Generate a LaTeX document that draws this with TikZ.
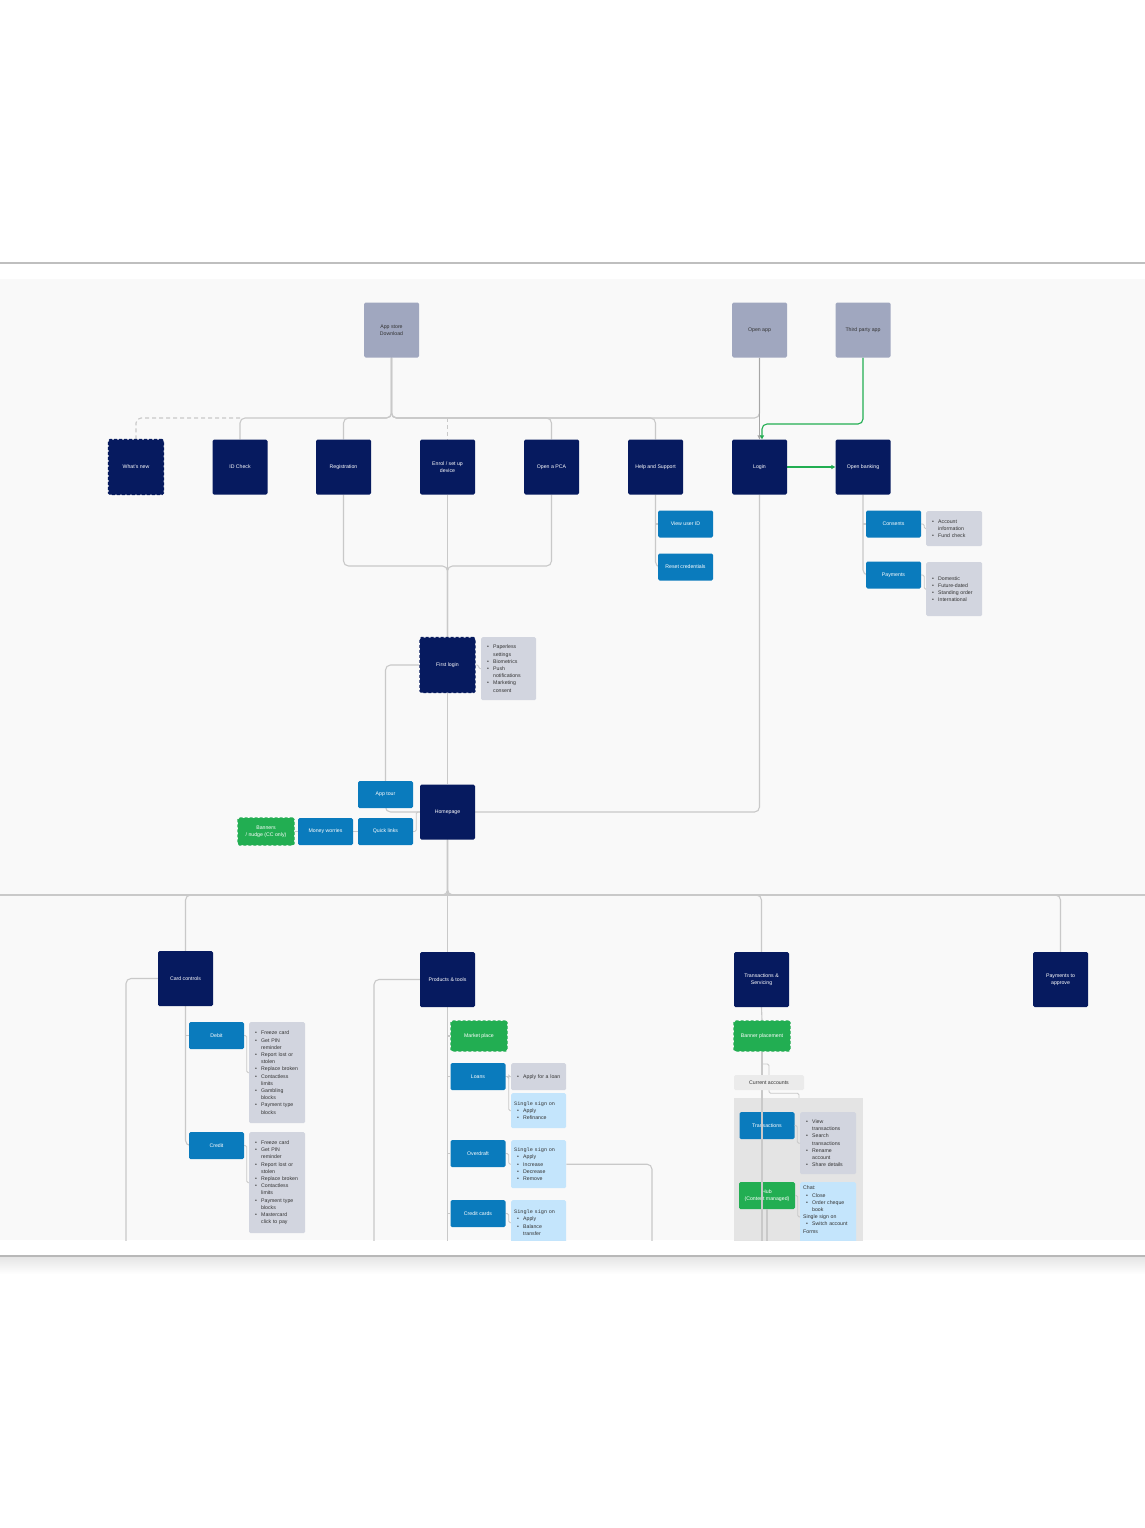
\documentclass[tikz,border=0pt]{standalone}
\usepackage{fontspec}
\setmainfont{Liberation Sans}
\setmonofont{Liberation Mono}
\usetikzlibrary{arrows.meta}
\pgfdeclarelayer{bgfill}
\pgfdeclarelayer{conn}
\pgfdeclarelayer{front}
\pgfsetlayers{bgfill,conn,main,front}
\definecolor{navy}{HTML}{061A5F}
\definecolor{srcgray}{HTML}{A0A7BF}
\definecolor{midblue}{HTML}{0A7BBD}
\definecolor{grncol}{HTML}{22AE52}
\definecolor{listgray}{HTML}{D2D5DF}
\definecolor{ltblue}{HTML}{C4E5FC}
\definecolor{lnc}{HTML}{C9C9C9}
\definecolor{txtdark}{HTML}{333333}
\definecolor{bgarea}{HTML}{F9F9F9}
\definecolor{contgray}{HTML}{E4E4E4}
\definecolor{cagray}{HTML}{EBEBEB}
\newcommand\bi{\hspace*{3pt}\makebox[6pt][l]{\textbullet}}
\newcommand\bc{\hspace*{9pt}}
\tikzset{
 base/.style={rectangle, rounded corners=1.5pt, inner sep=0pt, font=\fontsize{5.2}{7.2}\selectfont, align=center},
 src/.style={base, fill=srcgray, text=txtdark, minimum width=55pt, minimum height=55pt},
 nav/.style={base, fill=navy, text=white, minimum width=55pt, minimum height=55pt},
 navdash/.style={nav, draw=navy, line width=1.4pt, dash pattern=on 3pt off 2pt},
 subbox/.style={base, fill=midblue, text=white, minimum width=55pt, minimum height=27pt},
 grnbox/.style={base, fill=grncol, text=white, minimum width=56pt, minimum height=27pt},
 grndash/.style={grnbox, draw=grncol, line width=1.4pt, dash pattern=on 3pt off 2pt},
 lst/.style={base, fill=listgray, text=txtdark, anchor=north west, inner xsep=3pt, inner ysep=4pt, align=left},
 sso/.style={lst, fill=ltblue},
 conn/.style={draw=lnc, line width=1.1pt, rounded corners=5pt},
 brk/.style={draw=lnc, line width=0.8pt, rounded corners=1.5pt},
 garrow/.style={-{Triangle[length=4pt,width=4pt]}},
}
\begin{document}
\begin{tikzpicture}[x=1pt,y=-1pt]
\useasboundingbox (0,0) rectangle (1145,1528);
\begin{pgfonlayer}{bgfill}
\fill[white] (0,0) rectangle (1145,1528);
\fill[bgarea] (0,279) rectangle (1145,1240);
\shade[top color=black!10, bottom color=white] (0,1257) rectangle (1145,1274);
\draw[draw=black!25, line width=1.4pt] (0,263) -- (1145,263);
\draw[draw=black!28, line width=1.8pt] (0,1256) -- (1145,1256);
\end{pgfonlayer}

\begin{scope}
\clip (0,279) rectangle (1145,1240);
% top sources
\node[src] (appstore) at (391.5,330) {App store\\Download};
\node[src] (openapp) at (759.5,330) {Open app};
\node[src] (thirdparty) at (863,330) {Third party app};
% second row
\node[navdash] (whatsnew) at (136,467) {What's new};
\node[nav] (idcheck) at (240,467) {ID Check};
\node[nav] (registration) at (343.5,467) {Registration};
\node[nav] (enrol) at (447.5,467) {Enrol / set up\\device};
\node[nav] (pca) at (551.5,467) {Open a PCA};
\node[nav] (help) at (655.5,467) {Help and Support};
\node[nav] (login) at (759.5,467) {Login};
\node[nav] (openbanking) at (863,467) {Open banking};
\node[subbox] (viewuser) at (685.5,524) {View user ID};
\node[subbox] (reset) at (685.5,567) {Reset credentials};
\node[subbox] (consents) at (893.5,524) {Consents};
\node[subbox] (obpay) at (893.5,575) {Payments};
\node[lst, text width=50pt, minimum height=35pt] (acctlist) at (926,511) {\bi Account\\\bc information\\\bi Fund check};
\node[lst, text width=50pt, minimum height=54pt] (paylist) at (926,562) {\bi Domestic\\\bi Future-dated\\\bi Standing order\\\bi International};
% first login / homepage
\node[navdash] (firstlogin) at (447.5,665) {First login};
\node[lst, text width=49pt, minimum height=63pt] (fllist) at (481,637) {\bi Paperless\\\bc settings\\\bi Biometrics\\\bi Push\\\bc notifications\\\bi Marketing\\\bc consent};
\node[nav] (homepage) at (447.5,812) {Homepage};
\node[subbox] (apptour) at (385.5,794.5) {App tour};
\node[subbox] (quicklinks) at (385.5,831.5) {Quick links};
\node[subbox] (money) at (325.5,831.5) {Money worries};
\node[grndash] (banners) at (266,831.5) {Banners\\/ nudge (CC only)};
% card controls
\node[nav] (cardctl) at (185.5,978.5) {Card controls};
\node[subbox] (debit) at (216.5,1035.5) {Debit};
\node[subbox] (credit) at (216.5,1145.5) {Credit};
\node[lst, text width=50pt, minimum height=101pt] (debitlist) at (249,1022) {\bi Freeze card\\\bi Get PIN\\\bc reminder\\\bi Report lost or\\\bc stolen\\\bi Replace broken\\\bi Contactless\\\bc limits\\\bi Gambling\\\bc blocks\\\bi Payment type\\\bc blocks};
\node[lst, text width=50pt, minimum height=101pt] (creditlist) at (249,1132) {\bi Freeze card\\\bi Get PIN\\\bc reminder\\\bi Report lost or\\\bc stolen\\\bi Replace broken\\\bi Contactless\\\bc limits\\\bi Payment type\\\bc blocks\\\bi Mastercard\\\bc click to pay};
% products
\node[nav] (products) at (447.5,979.5) {Products \& tools};
\node[grndash, minimum height=30pt] (market) at (479,1036) {Market place};
\node[subbox] (loans) at (478,1076.5) {Loans};
\node[lst, text width=49pt, minimum height=27pt] (loanapply) at (511,1063) {\bi Apply for a loan};
\node[sso, text width=49pt, minimum height=35pt] (loansso) at (511,1093) {{\ttfamily Single sign on}\\\bi Apply\\\bi Refinance};
\node[subbox] (overdraft) at (478,1153.5) {Overdraft};
\node[sso, text width=49pt, minimum height=48pt] (odsso) at (511,1140) {{\ttfamily Single sign on}\\\bi Apply\\\bi Increase\\\bi Decrease\\\bi Remove};
\node[subbox] (creditcards) at (478,1213.5) {Credit cards};
\node[sso, text width=49pt, minimum height=45pt] (ccsso) at (511,1200) {{\ttfamily Single sign on}\\\bi Apply\\\bi Balance\\\bc transfer};
% transactions
\node[nav] (trans) at (761.5,979.5) {Transactions \&\\Servicing};
\node[grndash, minimum height=30pt] (banner) at (762,1036) {Banner placement};
\node[base, fill=cagray, text=txtdark, minimum width=70pt, minimum height=15pt] (curacc) at (769,1082.5) {Current accounts};
\node[rectangle, fill=contgray, anchor=north west, minimum width=129pt, minimum height=160pt, inner sep=0pt] (container) at (734,1098) {};
\node[subbox] (transactions) at (767,1125.5) {Transactions};
\node[lst, text width=50pt, minimum height=62pt] (translist) at (800,1112) {\bi View\\\bc transactions\\\bi Search\\\bc transactions\\\bi Rename\\\bc account\\\bi Share details};
\node[grnbox] (hub) at (767,1195.5) {Hub\\(Content managed)};
\node[sso, text width=50pt] (hublist) at (800,1182) {Chat:\\\bi Close\\\bi Order cheque\\\bc book\\Single sign on\\\bi Switch account\\Forms\\\mbox{}\\\mbox{}};
% payments to approve
\node[nav] (payapprove) at (1060.5,979.5) {Payments to\\approve};
\end{scope}

\begin{pgfonlayer}{conn}
\begin{scope}
\clip (0,279) rectangle (1145,1240);
\coordinate (busA) at (0,418);
\coordinate (busB) at (0,566);
\coordinate (divL) at (0,895);
\coordinate (divR) at (1145,895);
\coordinate (bot) at (0,1250);
\coordinate (gA) at (762,424);
\coordinate (ccL) at (126,1250);
\coordinate (ptL) at (374,1250);
\coordinate (odR) at (652,1250);
\coordinate (ca1) at (762,1064);
\coordinate (ca2) at (799,1098);
% top bus
\draw[conn] (appstore.south) |- (busA -| idcheck) -- (idcheck.north);
\draw[conn] (appstore.south) |- (busA -| openapp) -- (openapp.south);
\draw[conn] (appstore.south) |- (busA -| registration) -- (registration.north);
\draw[conn] (appstore.south) |- (busA -| pca) -- (pca.north);
\draw[conn] (appstore.south) |- (busA -| help) -- (help.north);
\draw[conn, dash pattern=on 4pt off 3pt] (busA -| idcheck) -| (whatsnew.north);
\draw[conn, dash pattern=on 4pt off 3pt] (busA -| enrol) -- (enrol.north);
\draw[conn, garrow, draw=black!35] (openapp.south) -- (login.north);
\draw[conn, draw=grncol, garrow] (thirdparty.south) |- (gA) -- (gA |- login.north);
\draw[conn, draw=grncol, garrow] (login.east) -- (openbanking.west);
% second level
\draw[conn] (registration.south) |- (busB -| enrol) -- (firstlogin.north);
\draw[conn] (pca.south) |- (busB -| enrol) -- (firstlogin.north);
\draw[conn] (enrol.south) -- (firstlogin.north);
\draw[conn] (help.south) |- (reset.west);
\draw[conn] (help.south |- viewuser.west) -- (viewuser.west);
\draw[conn] (openbanking.south) |- (obpay.west);
\draw[conn] (openbanking.south |- consents.west) -- (consents.west);
\draw[brk] (consents.east) -- ++(3,0) |- (acctlist.west);
\draw[brk] (obpay.east) -- ++(3,0) |- (paylist.west);
\draw[conn] (login.south) |- (homepage.east);
\draw[brk] (firstlogin.east) -- ++(3,0) |- (fllist.west);
\draw[conn] (firstlogin.south) -- (homepage.north);
\draw[conn] (firstlogin.west) -| (apptour.south |- homepage.west) -- (homepage.west);
\draw[brk] (quicklinks.east) -- ++(3,0) |- (homepage.west);
\draw[conn] (money.east) -- (quicklinks.west);
\draw[conn] (banners.east) -- (money.west);
% bottom section
\draw[conn] (divL) -- (divR);
\draw[conn] (homepage.south) -- (products.north);
\draw[conn] (homepage.south) |- (divL -| cardctl) -- (cardctl.north);
\draw[conn] (homepage.south) |- (divL -| trans) -- (trans.north);
\draw[conn] (homepage.south) |- (divL -| payapprove) -- (payapprove.north);
\draw[conn] (cardctl.west) -| (ccL);
\draw[conn] (cardctl.south) |- (credit.west);
\draw[conn] (cardctl.south |- debit.west) -- (debit.west);
\draw[brk] (debit.east) -- ++(2.5,0) |- (debitlist.west);
\draw[brk] (credit.east) -- ++(2.5,0) |- (creditlist.west);
\draw[conn] (products.west) -| (ptL);
\draw[conn] (products.south) -- (products.south |- bot);
\draw[conn] (products.south |- market.west) -- (market.west);
\draw[conn] (products.south |- loans.west) -- (loans.west);
\draw[conn] (products.south |- overdraft.west) -- (overdraft.west);
\draw[conn] (products.south |- creditcards.west) -- (creditcards.west);
\draw[brk] (loans.east) -- ++(3,0) |- (loanapply.west);
\draw[brk] (loans.east) -- ++(3,0) |- (loansso.west);
\draw[brk] (overdraft.east) -- ++(3,0) |- (odsso.west);
\draw[brk] (creditcards.east) -- ++(3,0) |- (ccsso.west);
\draw[conn] (odsso.east) -| (odR);
\draw[conn] (trans.south) -- (banner.north);
\draw[conn] (banner.south) -- (ca1 |- container.north);
\draw[brk] (ca1) -| (curacc.north);
\draw[brk] (curacc.south) -- ++(0,3) -| (ca2);
\end{scope}
\end{pgfonlayer}

\begin{pgfonlayer}{front}
\begin{scope}
\clip (0,279) rectangle (1145,1240);
\draw[conn] (ca1 |- container.north) -- (ca1 |- bot);
\draw[conn] (hub.south) -- (hub.south |- bot);
\draw[brk] (transactions.east) -- ++(2.5,0) |- (translist.west);
\draw[brk] (hub.east) -- ++(2.5,0) |- (hublist.west);
\end{scope}
\end{pgfonlayer}
\end{tikzpicture}
\end{document}
